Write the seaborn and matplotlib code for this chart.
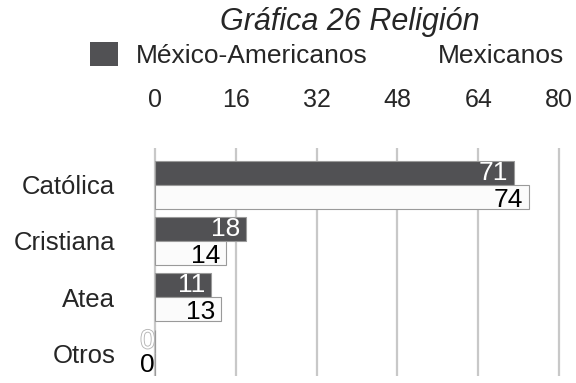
import pandas as pd
import matplotlib.pyplot as plt
import matplotlib.patheffects as pe
import seaborn as sns

categorias = ['Católica', 'Cristiana', 'Atea', 'Otros']
mexico_americanos = [71, 18, 11, 0]
mexicanos = [74, 14, 13, 0]
ticks = [0, 16, 32, 48, 64, 80]

df = pd.DataFrame({
    'religion': categorias * 2,
    'valor': mexico_americanos + mexicanos,
    'grupo': ['México-Americanos'] * 4 + ['Mexicanos'] * 4,
})

sns.set_style('white')
plt.rcParams['font.family'] = ['Liberation Sans', 'DejaVu Sans']

W, H = 576, 383
fig = plt.figure(figsize=(W / 100, H / 100), dpi=100)
# axes: x from 143 to 566 px, y from 148 to 376 px
ax = fig.add_axes([143 / W, 1 - 376 / H, (566 - 143) / W, (376 - 148) / H])

sns.barplot(data=df, y='religion', x='valor', hue='grupo', orient='h',
            palette={'México-Americanos': '#505155', 'Mexicanos': '#fbfbfb'},
            width=0.84, edgecolor='#9a9a9a', linewidth=0.8, ax=ax, zorder=3)

px = 5.05  # pixels per unit
ax.set_xlim(-12 / px, (566 - 155) / px)
ax.set_ylim(3.41, -0.66)
ax.set_xticks(ticks)
ax.xaxis.tick_top()
ax.tick_params(axis='x', length=0, pad=26, labelsize=18)
ax.tick_params(axis='y', length=0, pad=20, labelsize=18.5)
ax.set_xlabel('')
ax.set_ylabel('')
ax.grid(axis='x', color='#c8c8c8', linewidth=1.6, zorder=0)
for s in ax.spines.values():
    s.set_visible(False)

colores = ['white', 'black']
for cont, col in zip(ax.containers, colores):
    txts = ax.bar_label(cont, padding=-4, color=col, fontsize=19)
    for t, v in zip(txts, cont.datavalues):
        t.set_ha('right')
        t.set_va('center')
        if col == 'black':
            t.xyann = (t.xyann[0], -2)
        if v == 0:
            t.set_position((-12 / px, t.get_position()[1]))
            t.xyann = (0, 0)
            if col == 'white':
                t.set_path_effects([pe.withStroke(linewidth=1.3, foreground='#b5b5b5')])

sns.move_legend(ax, 'center left', bbox_to_anchor=(90 / W, 1 - 55 / H),
                bbox_transform=fig.transFigure, ncol=2, frameon=False,
                title=None, fontsize=19, handlelength=1.05, handleheight=1.05,
                columnspacing=0.9, handletextpad=0.7, borderpad=0, borderaxespad=0)
leg = ax.get_legend()
for h in leg.legend_handles:
    h.set_edgecolor('none')
leg.legend_handles[1].set_facecolor('white')

fig.text(350 / W, 1 - 22 / H, 'Gráfica 26 Religión', ha='center', va='center',
         fontsize=22, style='italic')

fig.savefig('out.png', dpi=100)
